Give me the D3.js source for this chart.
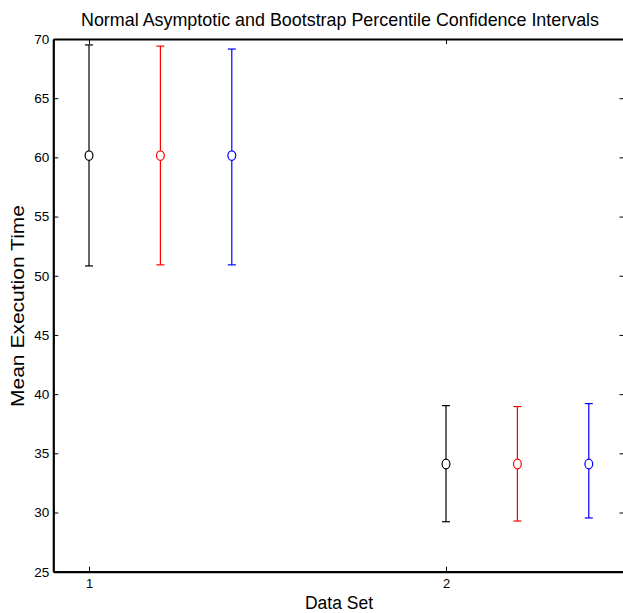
<!DOCTYPE html>
<html><head><meta charset="utf-8">
<script src="https://cdn.jsdelivr.net/npm/d3@7"></script>
<style>body{margin:0;background:#fff}svg{display:block}text{font-family:"Liberation Sans",Arial,sans-serif}</style>
</head><body>
<script>
const dataSets = [1, 2];
const seriesNames = ["Normal Asymptotic", "Bootstrap Percentile", "Bootstrap Percentile 2"];
const seriesColors = ["#000000", "#ff0000", "#0000ff"];
const seriesOffsets = [0, 0.2, 0.4];
const meanValues = [[60.15, 34.1], [60.15, 34.1], [60.15, 34.1]];
const lowerValues = [[50.83, 29.22], [50.92, 29.28], [50.92, 29.54]];
const upperValues = [[69.5, 39.03], [69.4, 38.95], [69.15, 39.2]];
const yTicks = [25, 30, 35, 40, 45, 50, 55, 60, 65, 70];
const xTicks = [1, 2];

const W = 623, H = 613;
const svg = d3.select("body").append("svg").attr("width", W).attr("height", H);
const x = d3.scaleLinear().domain([0.9, 2.5]).range([53.3, 624.5]);
const y = d3.scaleLinear().domain([25, 70]).range([571.7, 39]);

// axes
const gL = svg.append("g").attr("transform", `translate(${x(0.9)},0)`)
  .call(d3.axisLeft(y).tickValues(yTicks).tickSizeInner(-5).tickSizeOuter(0).tickPadding(4));
const gB = svg.append("g").attr("transform", `translate(0,${y(25)})`)
  .call(d3.axisBottom(x).tickValues(xTicks).tickFormat(d3.format("d")).tickSizeInner(-5).tickSizeOuter(0).tickPadding(7));
const gT = svg.append("g").attr("transform", `translate(0,${y(70)})`)
  .call(d3.axisTop(x).tickValues(xTicks).tickFormat("").tickSizeInner(-5).tickSizeOuter(0));
const gR = svg.append("g").attr("transform", `translate(${x(2.5)},0)`)
  .call(d3.axisRight(y).tickValues(yTicks).tickFormat("").tickSizeInner(-5).tickSizeOuter(0));
[gL, gB, gT, gR].forEach(g => {
  g.select(".domain").attr("stroke", "#000").attr("stroke-width", 2.2);
  g.selectAll(".tick line").attr("stroke", "#000").attr("stroke-width", 1);
  g.selectAll("text").attr("font-size", 13.5).attr("fill", "#000")
    .style("font-family", '"Liberation Sans",Arial,sans-serif');
});
gB.selectAll(".tick text").attr("font-size", 13);

// error bars
seriesNames.forEach((name, si) => {
  const g = svg.append("g").attr("stroke", seriesColors[si]).attr("fill", "none").attr("stroke-width", 1.2);
  dataSets.forEach((ds, di) => {
    const cx = x(ds + seriesOffsets[si]);
    g.append("line").attr("x1", cx).attr("x2", cx)
      .attr("y1", y(upperValues[si][di])).attr("y2", y(lowerValues[si][di]));
    [upperValues[si][di], lowerValues[si][di]].forEach(v => {
      g.append("line").attr("x1", cx - 4).attr("x2", cx + 4).attr("y1", y(v)).attr("y2", y(v));
    });
    g.append("ellipse").attr("cx", cx).attr("cy", y(meanValues[si][di]))
      .attr("rx", 3.9).attr("ry", 4.8).attr("fill", "#fff");
  });
});

// texts
svg.append("text").attr("x", 340).attr("y", 25.5).attr("text-anchor", "middle")
  .attr("font-size", 18.5).attr("textLength", 518).attr("lengthAdjust", "spacingAndGlyphs")
  .text("Normal Asymptotic and Bootstrap Percentile Confidence Intervals");
svg.append("text").attr("x", 339).attr("y", 609).attr("text-anchor", "middle")
  .attr("font-size", 18).attr("textLength", 68).attr("lengthAdjust", "spacingAndGlyphs")
  .text("Data Set");
svg.append("text").attr("transform", "translate(24,306) rotate(-90)").attr("text-anchor", "middle")
  .attr("font-size", 17.5).attr("textLength", 202).attr("lengthAdjust", "spacingAndGlyphs")
  .text("Mean Execution Time");
</script>
</body></html>
